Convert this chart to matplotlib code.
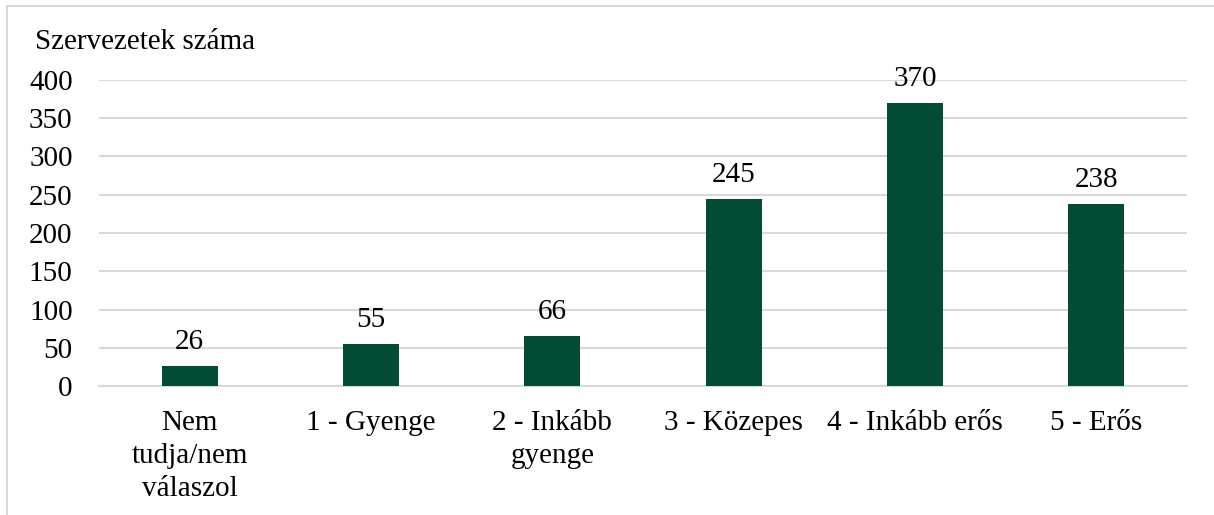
import matplotlib.pyplot as plt
import matplotlib.patches as mpatches

categories = ['Nem\ntudja/nem\nválaszol', '1 - Gyenge', '2 - Inkább\ngyenge',
              '3 - Közepes', '4 - Inkább erős', '5 - Erős']
values = [26, 55, 66, 245, 370, 238]
yticks = [0, 50, 100, 150, 200, 250, 300, 350, 400]

plt.rcParams['font.family'] = ['Liberation Serif', 'DejaVu Serif']
fs = 21

fig = plt.figure(figsize=(12.14, 5.15), dpi=100)
ax = fig.add_axes([99 / 1214, 1 - 386 / 515, 1088 / 1214, 306 / 515])

x = list(range(len(categories)))
ax.bar(x, values, width=0.31, color='#024b36', zorder=3)
for xi, v in zip(x, values):
    ax.text(xi, v + 14, str(v), ha='center', va='bottom', fontsize=fs, color='black', zorder=4)

ax.set_xlim(-0.5, len(categories) - 0.5)
ax.set_ylim(0, 400)
ax.set_yticks(yticks)
ax.set_xticks(x)
ax.set_xticklabels(categories, fontsize=fs, linespacing=1.35)
ax.tick_params(axis='y', labelsize=fs, length=0, pad=19)
ax.tick_params(axis='x', length=0, pad=17)
ax.yaxis.grid(True, color='#d9d9d9', linewidth=1.5, zorder=0)
for side in ['top', 'right', 'left']:
    ax.spines[side].set_visible(False)
ax.spines['bottom'].set_color('#d9d9d9')
ax.spines['bottom'].set_linewidth(1.5)

fig.text(35 / 1214, 1 - 42 / 515, 'Szervezetek száma', fontsize=fs, va='center', ha='left')

# outer frame of the chart area
frame = mpatches.Rectangle((7 / 1214, -0.01), 1.2, 1 - 6 / 515 + 0.01, transform=fig.transFigure,
                           fill=False, edgecolor='#d9d9d9', linewidth=1.5)
fig.patches.append(frame)

fig.savefig('out.png', dpi=100)
